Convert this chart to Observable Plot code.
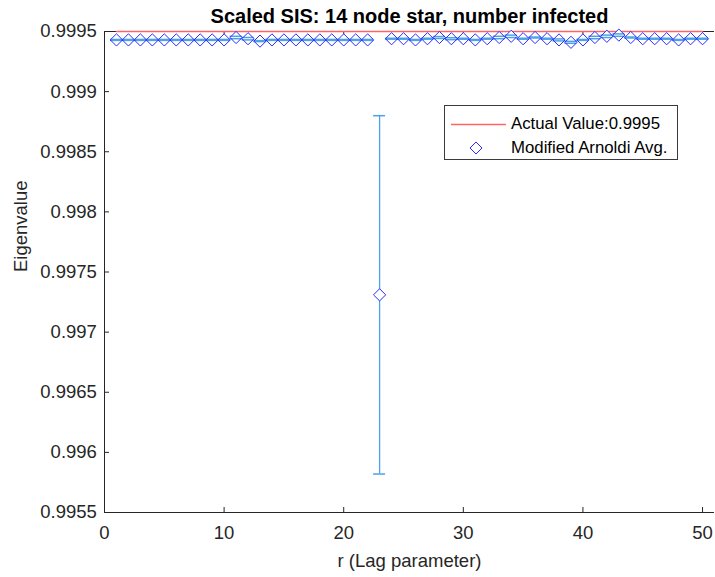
<!DOCTYPE html>
<html>
<head>
<meta charset="utf-8">
<script src="https://cdn.jsdelivr.net/npm/d3@7"></script>
<script src="https://cdn.jsdelivr.net/npm/@observablehq/plot@0.6"></script>
<style>
  body { margin: 0; background: #fff; }
  #wrap { position: relative; width: 715px; height: 577px; font-family: "Liberation Sans", Arial, sans-serif; }
  #legend { position: absolute; left: 444px; top: 105px; width: 234px; height: 55px; border: 1px solid #3a3a3a; background: #fff; box-sizing: border-box; }
  #legend .row { position: absolute; left: 0; height: 22px; width: 100%; }
  #legend svg { position: absolute; left: 0; top: 0; }
  #legend span { position: absolute; left: 66px; top: 1px; font-size: 16.8px; color: #000; white-space: nowrap; line-height: 20px; }
</style>
</head>
<body>
<div id="wrap"></div>
<script>
// ---- data ----
const titleText = "Scaled SIS: 14 node star, number infected";
const xLabelText = "r (Lag parameter)";
const yLabelText = "Eigenvalue";
const actualLabel = "Actual Value:0.9995";
const avgLabel = "Modified Arnoldi Avg.";
const actualValue = 0.9995;

const rLag = [1,2,3,4,5,6,7,8,9,10,11,12,13,14,15,16,17,18,19,20,21,22,23,24,25,
              26,27,28,29,30,31,32,33,34,35,36,37,38,39,40,41,42,43,44,45,46,47,48,49,50];
const avgValues = [
  0.99943,0.99943,0.99943,0.99943,0.99943,0.99943,0.99943,0.99943,0.99943,0.99943,
  0.99945,0.99944,0.99942,0.99943,0.99943,0.99943,0.99943,0.99943,0.99943,0.99943,
  0.99943,0.99943,0.99731,0.99944,0.99944,0.99943,0.99944,0.99945,0.99944,0.99944,
  0.99943,0.99944,0.99945,0.99946,0.99944,0.99945,0.99944,0.99943,0.99941,0.99943,
  0.99945,0.99946,0.99947,0.99945,0.99944,0.99944,0.99944,0.99943,0.99944,0.99944];
const errValues = [
  0.000004,0.000004,0.000004,0.000004,0.000004,0.000004,0.000004,0.000004,0.000004,0.000004,
  0.00001,0.00001,0.000004,0.000004,0.000004,0.000004,0.000004,0.000004,0.000004,0.000004,
  0.000004,0.000004,0.00149,0.000004,0.000004,0.000004,0.000004,0.000008,0.000008,0.000004,
  0.000004,0.000004,0.00001,0.00001,0.000004,0.000004,0.000004,0.000008,0.000008,0.000004,
  0.00001,0.00001,0.00001,0.000004,0.000004,0.000004,0.000004,0.000004,0.000004,0.000004];

const xTicks = [0,10,20,30,40,50];
const xTickLabels = ["0","10","20","30","40","50"];
const yTicks = [0.9955,0.996,0.9965,0.997,0.9975,0.998,0.9985,0.999,0.9995];
const yTickLabels = ["0.9955","0.996","0.9965","0.997","0.9975","0.998","0.9985","0.999","0.9995"];

// ---- build ----
const data = rLag.map((r, i) => ({r, v: avgValues[i], lo: avgValues[i] - errValues[i], hi: avgValues[i] + errValues[i]}));
const actualData = rLag.map(r => ({r, v: actualValue}));

const axisColor = "#262626";
const errColor = "#4da2e6";
const markColor = "#2a2aff";
const redColor = "#ff6464";

const chart = Plot.plot({
  width: 715,
  height: 577,
  marginLeft: 104,
  marginRight: 1,
  marginTop: 31,
  marginBottom: 65,
  style: {fontFamily: "'Liberation Sans', Arial, sans-serif", fontSize: "18.5px", color: axisColor, background: "white"},
  x: {domain: [0, 51]},
  y: {domain: [0.9955, 0.9995]},
  marks: [
    // axes box (left, bottom, top)
    Plot.ruleX([0], {stroke: axisColor, strokeWidth: 1}),
    Plot.ruleY([0.9955], {stroke: axisColor, strokeWidth: 1}),
    Plot.ruleY([0.9995], {stroke: axisColor, strokeWidth: 1}),
    Plot.axisX({ticks: xTicks, tickSize: -5, tickPadding: 18, tickFormat: d => xTickLabels[xTicks.indexOf(d)], label: null, stroke: axisColor, fill: axisColor}),
    Plot.axisX({anchor: "top", ticks: xTicks, tickSize: -5, tickFormat: () => "", label: null, stroke: axisColor}),
    Plot.axisY({ticks: yTicks, tickSize: -5, tickPadding: 12.6, tickFormat: d => yTickLabels[yTicks.indexOf(d)], label: null, stroke: axisColor, fill: axisColor}),
    // actual value line
    Plot.line(actualData, {x: "r", y: "v", stroke: redColor, strokeWidth: 1.4}),
    // error bars
    Plot.ruleX(data, {x: "r", y1: "lo", y2: "hi", stroke: errColor, strokeWidth: 1.3}),
    Plot.dot(data, {x: "r", y: "v", symbol: "diamond2", r: 5.5, fill: "white", stroke: "none"}),
    Plot.ruleY(data, {y: "lo", x1: d => d.r - 0.5, x2: d => d.r + 0.5, stroke: errColor, strokeWidth: 1.5}),
    Plot.ruleY(data, {y: "hi", x1: d => d.r - 0.5, x2: d => d.r + 0.5, stroke: errColor, strokeWidth: 1.5}),
    Plot.dot(data, {x: "r", y: "v", symbol: "diamond2", r: 5.5, fill: "none", stroke: markColor, strokeWidth: 1}),
    // texts
    Plot.text([titleText], {frameAnchor: "top", dy: -14.7, fontSize: 20, fontWeight: "bold", fill: "#000", lineAnchor: "middle"}),
    Plot.text([xLabelText], {frameAnchor: "bottom", dy: 48.5, fontSize: 18.5, fill: axisColor, lineAnchor: "middle"}),
    Plot.text([yLabelText], {frameAnchor: "left", dx: -83.5, rotate: -90, fontSize: 18.5, fill: axisColor, lineAnchor: "middle"})
  ]
});

const wrap = document.getElementById("wrap");
wrap.appendChild(chart);

// legend
const legend = document.createElement("div");
legend.id = "legend";
legend.innerHTML = `
  <div class="row" style="top:7px">
    <svg width="66" height="22"><line x1="6" x2="61" y1="11.5" y2="11.5" stroke="${redColor}" stroke-width="1.4"/></svg>
    <span>${actualLabel}</span>
  </div>
  <div class="row" style="top:31px">
    <svg width="66" height="22"><path d="M31,5 L37,11 L31,17 L25,11 Z" fill="none" stroke="${markColor}" stroke-width="1"/></svg>
    <span>${avgLabel}</span>
  </div>`;
wrap.appendChild(legend);
</script>
</body>
</html>
